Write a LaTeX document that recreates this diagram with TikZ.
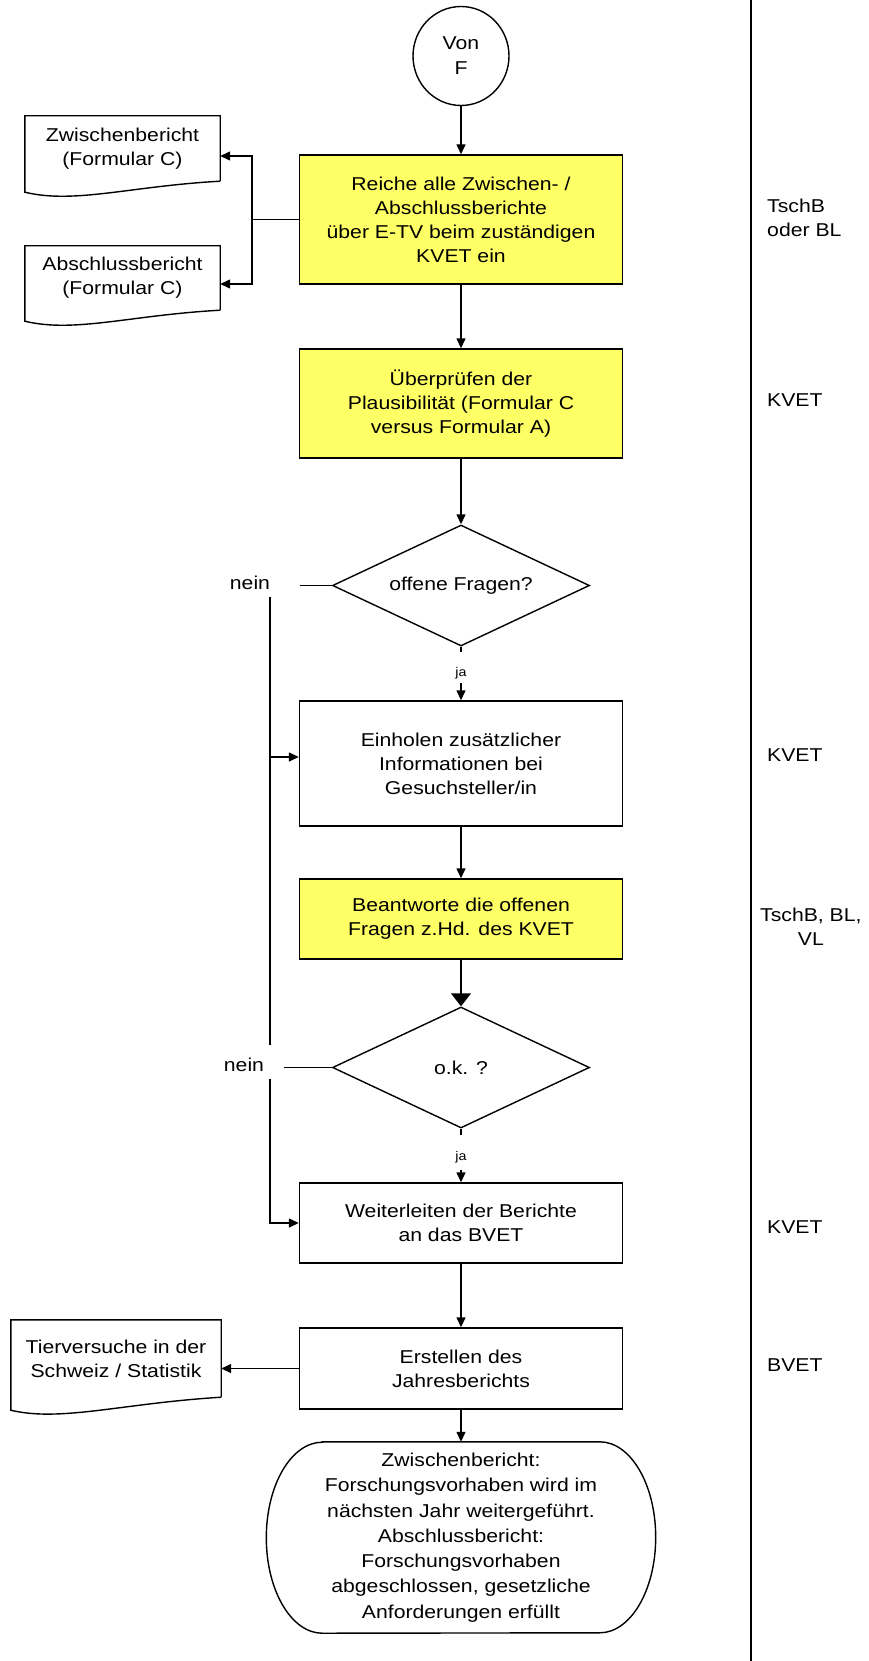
\documentclass[tikz,border=0pt]{standalone}
\usepackage{fontspec}
\setmainfont{Liberation Sans}[FakeStretch=1.14]
\usetikzlibrary{arrows.meta,shapes.geometric,calc}
\definecolor{taskyellow}{RGB}{255,255,102}
\begin{document}
\begin{tikzpicture}[x=1pt,y=-1pt,
  every node/.style={font=\fontsize{18.6}{24}\selectfont, inner sep=0pt},
  line/.style={line width=1.4pt},
  arrow/.style={line, -{Triangle[length=10pt,width=9pt]}},
  bigarrow/.style={line, -{Triangle[length=13pt,width=20pt]}},
  procbox/.style={draw, line width=1.4pt, minimum width=323pt, align=center},
  task/.style={procbox, fill=taskyellow},
  decision/.style={draw, diamond, line width=1.4pt, minimum width=257pt,
    minimum height=121pt, shape aspect=2.12},
  docnode/.style={align=center},
  role/.style={anchor=west, align=left},
  small/.style={font=\fontsize{12.5}{14}\selectfont}
]
\useasboundingbox (0,0) rectangle (869,1661);

% swimlane separator
\draw[line] (751,0) -- (751,1661);

% start connector
\node[draw, ellipse, line width=1.4pt, minimum width=96pt, minimum height=99pt, align=center,
  font=\fontsize{18.6}{25}\selectfont] (vonf) at (461,56) {Von\\F};

% process steps
\node[task, minimum height=129pt] (box1) at (461,219.5)
  {Reiche alle Zwischen- /\\Abschlussberichte\\über E-TV beim zuständigen\\KVET ein};
\node[task, minimum height=109pt] (box2) at (461,403.5)
  {Überprüfen der\\Plausibilität (Formular C\\versus Formular A)};
\node[decision] (d1) at (461,585.5) {offene Fragen?};
\node[procbox, minimum height=125pt] (box3) at (461,763.5)
  {Einholen zusätzlicher\\Informationen bei\\Gesuchsteller/in};
\node[task, minimum height=80pt] (box4) at (461,919)
  {Beantworte die offenen\\Fragen z.Hd. des KVET};
\node[decision] (d2) at (461,1067.5) {o.k. ?};
\node[procbox, minimum height=80pt] (box5) at (461,1223)
  {Weiterleiten der Berichte\\an das BVET};
\node[procbox, minimum height=81pt] (box6) at (461,1368.5)
  {Erstellen des\\Jahresberichts};
\node[align=center, minimum width=277pt, minimum height=191pt,
  font=\fontsize{18.6}{25.3}\selectfont] (term) at (461,1537.5)
  {Zwischenbericht:\\Forschungsvorhaben wird im\\nächsten Jahr weitergeführt.\\Abschlussbericht:\\Forschungsvorhaben\\abgeschlossen, gesetzliche\\Anforderungen erfüllt};
\draw[line] (term.north west) -- (term.north east)
  arc[start angle=-90, end angle=90, x radius=56, y radius=95.5]
  -- (term.south west)
  arc[start angle=90, end angle=270, x radius=56, y radius=95.5] -- cycle;

% documents
\node[docnode, minimum width=195pt, minimum height=65pt] (doc1) at (122.5,148.5)
  {Zwischenbericht\\(Formular C)};
\node[docnode, minimum width=195pt, minimum height=64pt] (doc2) at (122.5,278)
  {Abschlussbericht\\(Formular C)};
\node[docnode, minimum width=210pt, minimum height=77pt] (doc3) at (116,1358.5)
  {Tierversuche in der\\Schweiz / Statistik};
\draw[line] (doc1.south east) -- (doc1.north east) -- (doc1.north west)
  -- ($(doc1.south west)+(0,11)$)
  .. controls ($(doc1.south west)+(50,23)$) and ($(doc1.south west)+(105,5)$) .. (doc1.south east);
\draw[line] (doc2.south east) -- (doc2.north east) -- (doc2.north west)
  -- ($(doc2.south west)+(0,11)$)
  .. controls ($(doc2.south west)+(50,23)$) and ($(doc2.south west)+(105,5)$) .. (doc2.south east);
\draw[line] (doc3.south east) -- (doc3.north east) -- (doc3.north west)
  -- ($(doc3.south west)+(0,13)$)
  .. controls ($(doc3.south west)+(50,25)$) and ($(doc3.south west)+(112,6)$) .. (doc3.south east);

% roles
\node[role] (r1) at (767,217.5) {TschB\\oder BL};
\node[role] (r2) at (767,400) {KVET};
\node[role] (r3) at (767,755) {KVET};
\node[anchor=west, align=center] (r4) at (760,927) {TschB, BL,\\VL};
\node[role] (r5) at (767,1227) {KVET};
\node[role] (r6) at (767,1365) {BVET};

% branch labels
\node (nein1) at (250,583) {nein};
\node (nein2) at (244,1065) {nein};
\node[small, text height=24.2pt, text depth=6.8pt] (ja1) at (461,667.5) {ja};
\node[small, text height=25.2pt, text depth=9.8pt] (ja2) at (461,1152.5) {ja};

% connector points
\coordinate (fork) at (252,219.5);
\coordinate (n1end) at (300,585.5);
\coordinate (v1) at (270,597);
\coordinate (v2) at (270,1045);
\coordinate (v3) at (270,1079);
\coordinate (n2end) at (284,1067.5);
\coordinate (b3in) at ([yshift=6.5pt]box3.west);

% connectors
\draw[arrow] (vonf) -- (box1);
\draw[line] (box1.west) -- (fork);
\draw[arrow] (fork) |- ([yshift=-7.5pt]doc1.east);
\draw[arrow] (fork) |- ([yshift=-6pt]doc2.east);
\draw[arrow] (box1) -- (box2);
\draw[arrow] (box2) -- (d1);
\draw[line] (d1.south) -- (ja1);
\draw[arrow] (ja1) -- (box3);
\draw[line] (d1.west) -- (n1end);
\draw[line] (v1) -- (v2);
\draw[arrow] (v1 |- b3in) -- (b3in);
\draw[arrow] (box3) -- (box4);
\draw[bigarrow] (box4) -- (d2);
\draw[line] (d2.west) -- (n2end);
\draw[line] (d2.south) -- (ja2);
\draw[arrow] (ja2) -- (box5);
\draw[arrow] (v3) |- (box5.west);
\draw[arrow] (box5) -- (box6);
\draw[arrow] (box6.west) -- (doc3.east |- box6.west);
\draw[arrow] (box6) -- (term);
\end{tikzpicture}
\end{document}
